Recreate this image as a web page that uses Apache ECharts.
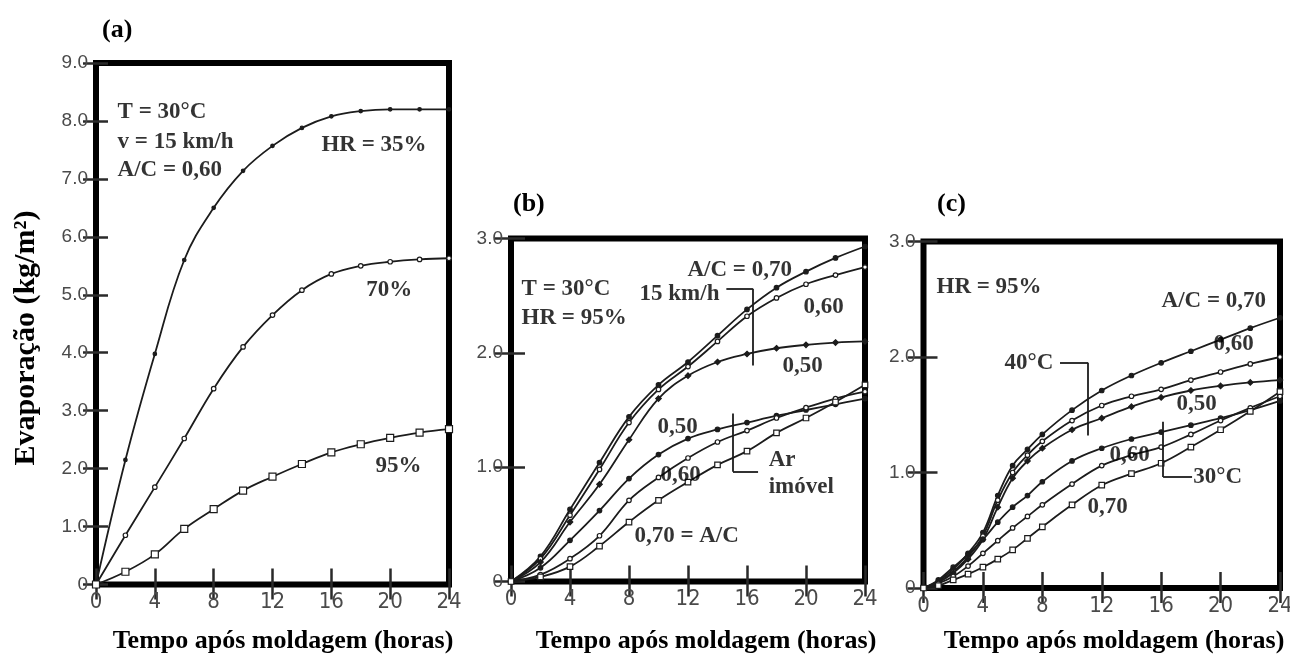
<!DOCTYPE html>
<html>
<head>
<meta charset="utf-8">
<title>Evaporação</title>
<script src="https://cdn.jsdelivr.net/npm/echarts@6/dist/echarts.min.js"></script>
<style>
  html, body { margin: 0; padding: 0; background: #fff; }
  #chart { width: 1290px; height: 657px; }
</style>
</head>
<body>
<div id="chart"></div>
<script>
// ---- data ---------------------------------------------------------------
const hourTicks = [0, 4, 8, 12, 16, 20, 24];

// (a) T = 30°C, v = 15 km/h, A/C = 0,60
const hoursA = [0, 2, 4, 6, 8, 10, 12, 14, 16, 18, 20, 22, 24];
const evapA_HR35 = [0, 2.15, 3.98, 5.6, 6.5, 7.14, 7.57, 7.88, 8.08, 8.17, 8.2, 8.2, 8.2];
const evapA_HR70 = [0, 0.85, 1.68, 2.52, 3.38, 4.1, 4.65, 5.08, 5.36, 5.5, 5.57, 5.61, 5.63];
const evapA_HR95 = [0, 0.22, 0.52, 0.96, 1.3, 1.62, 1.86, 2.08, 2.28, 2.42, 2.53, 2.62, 2.68];
const yTicksA = [0, 1, 2, 3, 4, 5, 6, 7, 8, 9];

// (b) T = 30°C, HR = 95%: 15 km/h and ar imóvel
const hoursB = [0, 2, 4, 6, 8, 10, 12, 14, 16, 18, 20, 22, 24];
const evapB_vento070 = [0, 0.22, 0.63, 1.04, 1.44, 1.72, 1.92, 2.15, 2.38, 2.57, 2.71, 2.83, 2.93];
const evapB_vento060 = [0, 0.2, 0.58, 0.98, 1.39, 1.68, 1.88, 2.1, 2.32, 2.48, 2.6, 2.68, 2.75];
const evapB_vento050 = [0, 0.17, 0.52, 0.85, 1.24, 1.6, 1.8, 1.92, 1.99, 2.04, 2.07, 2.09, 2.1];
const evapB_imovel050 = [0, 0.12, 0.36, 0.62, 0.9, 1.11, 1.25, 1.33, 1.39, 1.45, 1.5, 1.55, 1.6];
const evapB_imovel060 = [0, 0.06, 0.2, 0.4, 0.71, 0.91, 1.08, 1.22, 1.32, 1.43, 1.52, 1.6, 1.66];
const evapB_imovel070 = [0, 0.04, 0.13, 0.31, 0.52, 0.71, 0.87, 1.02, 1.14, 1.3, 1.43, 1.57, 1.72];
const yTicksBC = [0, 1, 2, 3];

// (c) HR = 95%: 40°C and 30°C
const hoursC = [0, 1, 2, 3, 4, 5, 6, 7, 8, 10, 12, 14, 16, 18, 20, 22, 24];
const evapC_40_070 = [0, 0.06, 0.16, 0.3, 0.48, 0.8, 1.06, 1.2, 1.33, 1.54, 1.71, 1.84, 1.95, 2.05, 2.15, 2.25, 2.34];
const evapC_40_060 = [0, 0.05, 0.14, 0.27, 0.45, 0.76, 1.0, 1.15, 1.27, 1.45, 1.58, 1.66, 1.72, 1.8, 1.87, 1.94, 2.0];
const evapC_40_050 = [0, 0.05, 0.13, 0.25, 0.42, 0.7, 0.95, 1.1, 1.21, 1.37, 1.47, 1.57, 1.65, 1.71, 1.75, 1.78, 1.8];
const evapC_30_050 = [0, 0.07, 0.18, 0.29, 0.42, 0.57, 0.7, 0.8, 0.92, 1.1, 1.21, 1.29, 1.35, 1.41, 1.47, 1.54, 1.62];
const evapC_30_060 = [0, 0.04, 0.1, 0.19, 0.3, 0.41, 0.52, 0.62, 0.72, 0.9, 1.06, 1.15, 1.22, 1.33, 1.45, 1.56, 1.66];
const evapC_30_070 = [0, 0.02, 0.07, 0.12, 0.18, 0.25, 0.33, 0.43, 0.53, 0.72, 0.89, 0.99, 1.08, 1.22, 1.37, 1.53, 1.7];

// text placed inside the plots, in data units [hora, evaporação, texto]
const notesA = [
  [1.5, 8.14, 'T = 30°C'], [1.5, 7.62, 'v = 15 km/h'], [1.5, 7.14, 'A/C = 0,60'],
  [15.36, 7.57, 'HR = 35%'], [18.4, 5.08, '70%'], [19.03, 2.04, '95%']
];
const notesB = [
  [0.75, 2.55, 'T = 30°C'], [0.75, 2.30, 'HR = 95%'], [12.0, 2.72, 'A/C = 0,70'],
  [8.75, 2.51, '15 km/h'], [19.86, 2.40, '0,60'], [18.44, 1.88, '0,50'],
  [9.97, 1.35, '0,50'], [10.17, 0.93, '0,60'], [17.5, 1.06, 'Ar'],
  [17.5, 0.82, 'imóvel'], [8.4, 0.39, '0,70 = A/C']
];
const notesC = [
  [0.91, 2.60, 'HR = 95%'], [16.06, 2.48, 'A/C = 0,70'], [19.56, 2.11, '0,60'],
  [5.49, 1.94, '40°C'], [17.07, 1.59, '0,50'], [12.56, 1.15, '0,60'],
  [18.2, 0.96, '30°C'], [11.08, 0.70, '0,70']
];
// bracket lines grouping curves: [[x1, y1], [x2, y2]]
const bracketsB = [
  [[14.6, 2.56], [16.4, 2.56]], [[16.4, 2.56], [16.4, 1.89]],
  [[15.05, 1.47], [15.05, 0.96]], [[15.05, 0.96], [16.75, 0.96]]
];
const bracketsC = [
  [[9.19, 1.95], [11.08, 1.95]], [[11.08, 1.95], [11.08, 1.32]],
  [[16.13, 1.44], [16.13, 0.96]], [[16.13, 0.96], [18.08, 0.96]]
];

// ---- styling helpers ----------------------------------------------------
const SERIF = "'Liberation Serif', 'Times New Roman', serif";
const NARROW = "'Liberation Sans Narrow', 'DejaVu Sans Condensed', 'Liberation Sans', sans-serif";
const SANS = "'Liberation Sans', Arial, sans-serif";
const INK = '#1c1c1c';

const grids = [
  { left: 96,    top: 63,    width: 353,   height: 521.5 },
  { left: 511,   top: 238.5, width: 354,   height: 343 },
  { left: 923.5, top: 241.5, width: 356.5, height: 346.5 }
].map(g => Object.assign(g, {
  show: true, borderColor: '#000', borderWidth: 6, backgroundColor: 'transparent',
  containLabel: false, outerBoundsMode: 'none'
}));

const yTickSets = [yTicksA, yTicksBC, yTicksBC];

const xAxes = [];
const yAxes = [];
grids.forEach((g, i) => {
  const xMin = hourTicks[0], xMax = hourTicks[hourTicks.length - 1];
  const xStep = hourTicks[1] - hourTicks[0];
  const yt = yTickSets[i];
  const yMin = yt[0], yMax = yt[yt.length - 1], yStep = yt[1] - yt[0];
  const tick = (len) => ({ show: true, inside: true, length: len, lineStyle: { color: '#2a2a2a', width: 2.5 } });
  xAxes.push({
    type: 'value', gridIndex: i, position: 'bottom', min: xMin, max: xMax, interval: xStep,
    axisLine: { show: false }, splitLine: { show: false },
    axisTick: tick(16),
    axisLabel: { show: true, color: '#4a4a4a', fontFamily: NARROW, fontSize: 22, margin: 7 }
  });
  xAxes.push({
    type: 'value', gridIndex: i, position: 'top', min: xMin, max: xMax, interval: xStep,
    axisLine: { show: false }, splitLine: { show: false },
    axisTick: tick(15), axisLabel: { show: false }
  });
  yAxes.push({
    type: 'value', gridIndex: i, position: 'left', min: yMin, max: yMax, interval: yStep,
    axisLine: { show: false }, splitLine: { show: false },
    axisTick: tick(i === 0 ? 12 : 14),
    axisLabel: {
      show: true, color: '#4a4a4a', fontFamily: SANS, fontSize: 19, margin: 8,
      formatter: v => (v === 0 ? '0' : v.toFixed(1))
    }
  });
  yAxes.push({
    type: 'value', gridIndex: i, position: 'right', min: yMin, max: yMax, interval: yStep,
    axisLine: { show: false }, splitLine: { show: false },
    axisTick: tick(i === 0 ? 13 : 16), axisLabel: { show: false }
  });
});

function curve(panel, hours, values, symbol, filled, size) {
  return {
    type: 'line', xAxisIndex: panel * 2, yAxisIndex: panel * 2,
    data: hours.map((h, k) => [h, values[k]]),
    smooth: 0.4,
    symbol: symbol, symbolSize: size, showSymbol: true,
    lineStyle: { color: INK, width: 1.8 },
    itemStyle: { color: filled ? INK : '#fff', borderColor: INK, borderWidth: 1.2 },
    silent: true, animation: false, z: 3
  };
}

function notes(panel, list, brackets) {
  const s = {
    type: 'scatter', xAxisIndex: panel * 2, yAxisIndex: panel * 2,
    data: list.map(n => ({ value: [n[0], n[1]], name: n[2] })),
    symbol: 'circle', symbolSize: 1, itemStyle: { color: 'rgba(0,0,0,0)' },
    label: {
      show: true, position: [0, 0], align: 'left', verticalAlign: 'middle',
      formatter: p => p.name, color: '#000', fontFamily: SERIF, fontWeight: 'bold', fontSize: 23
    },
    silent: true, animation: false, z: 5
  };
  if (brackets) {
    s.markLine = {
      silent: true, symbol: 'none', animation: false,
      label: { show: false },
      lineStyle: { color: INK, width: 1.8, type: 'solid' },
      data: brackets.map(b => [{ coord: b[0] }, { coord: b[1] }])
    };
  }
  return s;
}

const series = [
  curve(0, hoursA, evapA_HR35, 'circle', true, 3.5),
  curve(0, hoursA, evapA_HR70, 'circle', false, 4.5),
  curve(0, hoursA, evapA_HR95, 'rect', false, 7),

  curve(1, hoursB, evapB_vento070, 'circle', true, 4.5),
  curve(1, hoursB, evapB_vento060, 'circle', false, 4.5),
  curve(1, hoursB, evapB_vento050, 'diamond', true, 5.5),
  curve(1, hoursB, evapB_imovel050, 'circle', true, 4.5),
  curve(1, hoursB, evapB_imovel060, 'circle', false, 4.5),
  curve(1, hoursB, evapB_imovel070, 'rect', false, 5.5),

  curve(2, hoursC, evapC_40_070, 'circle', true, 4.5),
  curve(2, hoursC, evapC_40_060, 'circle', false, 4.5),
  curve(2, hoursC, evapC_40_050, 'diamond', true, 5.5),
  curve(2, hoursC, evapC_30_050, 'circle', true, 4.5),
  curve(2, hoursC, evapC_30_060, 'circle', false, 4.5),
  curve(2, hoursC, evapC_30_070, 'rect', false, 5.5),

  notes(0, notesA, null),
  notes(1, notesB, bracketsB),
  notes(2, notesC, bracketsC)
];

const boldSerif = size => 'bold ' + size + 'px ' + SERIF;
const graphic = [
  { type: 'text', x: 102, y: 30, style: { text: '(a)', font: boldSerif(26), fill: '#000', align: 'left', verticalAlign: 'middle' } },
  { type: 'text', x: 513, y: 204, style: { text: '(b)', font: boldSerif(26), fill: '#000', align: 'left', verticalAlign: 'middle' } },
  { type: 'text', x: 937, y: 204, style: { text: '(c)', font: boldSerif(26), fill: '#000', align: 'left', verticalAlign: 'middle' } },
  { type: 'text', x: 26, y: 338, rotation: Math.PI / 2,
    style: { text: 'Evaporação (kg/m²)', font: boldSerif(30), fill: '#000', align: 'center', verticalAlign: 'middle' } },
  { type: 'text', x: 283, y: 641, style: { text: 'Tempo após moldagem (horas)', font: boldSerif(26), fill: '#000', align: 'center', verticalAlign: 'middle' } },
  { type: 'text', x: 706, y: 641, style: { text: 'Tempo após moldagem (horas)', font: boldSerif(26), fill: '#000', align: 'center', verticalAlign: 'middle' } },
  { type: 'text', x: 1114, y: 641, style: { text: 'Tempo após moldagem (horas)', font: boldSerif(26), fill: '#000', align: 'center', verticalAlign: 'middle' } }
];

const chart = echarts.init(document.getElementById('chart'), null, { renderer: 'canvas' });
chart.setOption({
  backgroundColor: '#fff',
  animation: false,
  grid: grids,
  xAxis: xAxes,
  yAxis: yAxes,
  series: series,
  graphic: graphic
});
</script>
</body>
</html>
